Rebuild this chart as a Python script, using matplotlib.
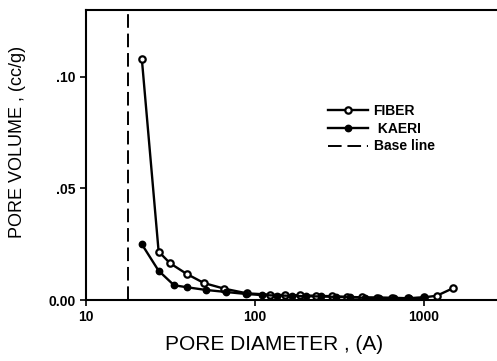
import matplotlib
matplotlib.use("Agg")
import matplotlib.pyplot as plt

plt.rcParams['font.family'] = ['Liberation Sans', 'DejaVu Sans']

# Data (pore diameter in A, pore volume in cc/g)
fiber_d = [21.4, 26.9, 31.4, 39.4, 49.9, 65.6, 89.4, 122, 150, 185, 230, 285, 350,
           430, 530, 650, 800, 1000, 1190, 1486]
fiber_v = [0.108, 0.0217, 0.0165, 0.0117, 0.0076, 0.0051, 0.0030, 0.0024, 0.0022,
           0.0021, 0.0019, 0.0017, 0.0014, 0.0012, 0.0011, 0.0010, 0.0008, 0.0012,
           0.0019, 0.0053]
kaeri_d = [21.4, 26.9, 33.2, 39.7, 51.3, 67.3, 88.5, 110, 135, 165, 200, 245, 300,
           365, 445, 545, 665, 815, 1000]
kaeri_v = [0.025, 0.0131, 0.0066, 0.0057, 0.0045, 0.0036, 0.0027, 0.0022, 0.0020,
           0.0019, 0.0017, 0.0016, 0.0014, 0.0012, 0.0010, 0.0009, 0.0008, 0.0007,
           0.0010]
baseline_d = 17.7

xticks = [10, 100, 1000]
xticklabels = ['10', '100', '1000']
yticks = [0.0, 0.05, 0.10]
yticklabels = ['0.00', '.05', '.10']

W, H = 497, 361
fig = plt.figure(figsize=(W / 100, H / 100), dpi=100)
ax = fig.add_axes([86 / W, 1 - 300 / H, 422.5 / W, 290 / H])

ax.plot(fiber_d, fiber_v, color='black', lw=1.7, marker='o', ms=4.6,
        mfc='white', mec='black', mew=1.6, label='FIBER')
ax.plot(kaeri_d, kaeri_v, color='black', lw=1.7, marker='o', ms=4.6,
        mfc='black', mec='black', label=' KAERI')
ax.axvline(baseline_d, color='black', lw=1.4, ls=(0, (7, 3)), label='Base line')

ax.set_xscale('log')
ax.set_xlim(10, 10 ** 3.5)
ax.set_ylim(0, 0.130)
ax.set_xticks(xticks)
ax.set_xticklabels(xticklabels)
ax.xaxis.set_minor_locator(matplotlib.ticker.NullLocator())
ax.set_yticks(yticks)
ax.set_yticklabels(yticklabels)
ax.tick_params(direction='out', length=4.5, width=1.2, labelsize=10, pad=3)
for lab in ax.get_xticklabels() + ax.get_yticklabels():
    lab.set_fontweight('bold')
for s in ax.spines.values():
    s.set_linewidth(1.5)

leg = ax.legend(loc='upper left', bbox_to_anchor=(318 / W, 1 - 94 / H),
                bbox_transform=fig.transFigure, frameon=False, fontsize=10,
                handlelength=2.9, handletextpad=0.4, labelspacing=0.28,
                borderpad=0.2)
for t in leg.get_texts():
    t.set_fontweight('bold')

fig.text(18 / W, 1 - 142 / H, 'PORE VOLUME , (cc/g)', rotation=90,
         ha='center', va='center', fontsize=13)
fig.text(274 / W, 1 - 344 / H, 'PORE DIAMETER , (A)', ha='center',
         va='center', fontsize=15)

fig.savefig('out.png', dpi=100)
